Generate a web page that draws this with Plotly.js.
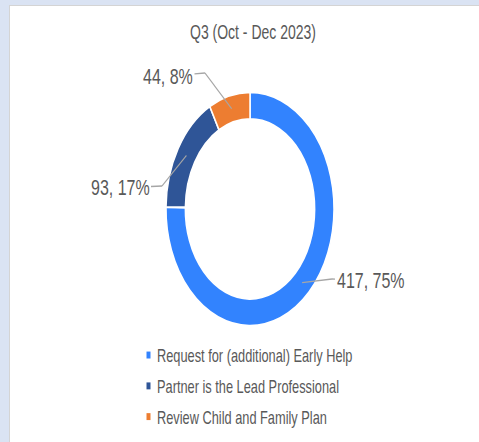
<!DOCTYPE html>
<html><head><meta charset="utf-8">
<script src="https://cdn.plot.ly/plotly-3.0.1.min.js"></script>
<style>
html,body{margin:0;padding:0;background:#DAE3F3;overflow:hidden;width:479px;height:442px;}
#card{position:absolute;left:9px;top:5px;width:470px;height:437px;background:#ffffff;border-left:1px solid #D4D4D4;border-top:1px solid #D4D4D4;}
#chart{position:absolute;left:0;top:0;width:469px;height:314px;transform-origin:0 0;}
</style></head><body>
<div id="card"><div id="chart"></div></div>
<script>
// ---- data ----
const chartTitle = 'Q3 (Oct - Dec 2023)';
const categories = ['Request for (additional) Early Help', 'Partner is the Lead Professional', 'Review Child and Family Plan'];
const values = [417, 93, 44];
const colors = ['#3283FE', '#2F5597', '#ED7D31'];

// ---- layout constants (pixels in the unstretched plot) ----
const W = 469, H = 314, STRETCH = 1.39;
const HOLE = 0.77;
const pieDomain = {x: [156 / W, 324 / W], y: [1 - 230 / H, 1 - 62 / H]};
// label text centre and elbow of leader line for each category
const labelText = [[360.5, 197.8], [110, 130.9], [158, 50.4]];
const labelElbow = [[322, 196.4], [152, 129.5], [195, 48.2]];
const legendRowY = [251.1, 273.3, 295.4];
const textColor = '#595959';
const lineColor = '#A6A6A6';
const fontFam = 'Liberation Sans, Arial, sans-serif';

const total = values.reduce((a, b) => a + b, 0);
const cx = (pieDomain.x[0] + pieDomain.x[1]) / 2 * W;
const cy = (1 - (pieDomain.y[0] + pieDomain.y[1]) / 2) * H;
const rOuter = Math.min((pieDomain.x[1] - pieDomain.x[0]) * W, (pieDomain.y[1] - pieDomain.y[0]) * H) / 2;
const rMid = rOuter * (1 + HOLE) / 2;

const annotations = [], shapes = [];
let cum = 0;
values.forEach((v, i) => {
  const mid = (cum + v / 2) / total; cum += v;
  const th = mid * 2 * Math.PI;
  const tipX = cx + rMid * Math.sin(th), tipY = cy - rMid * Math.cos(th);
  const [ex, ey] = labelElbow[i];
  const [tx, ty] = labelText[i];
  const txt = v + ', ' + Math.round(v / total * 100) + '%';
  annotations.push({
    xref: 'paper', yref: 'paper', x: ex / W, y: 1 - ey / H,
    axref: 'pixel', ayref: 'pixel', ax: tx - ex, ay: ty - ey,
    text: txt, showarrow: true, arrowhead: 0, arrowwidth: 1, arrowcolor: lineColor, standoff: 0,
    font: {family: fontFam, size: 16, color: textColor}, borderpad: 1
  });
  shapes.push({type: 'line', xref: 'paper', yref: 'paper', x0: ex / W, y0: 1 - ey / H, x1: tipX / W, y1: 1 - tipY / H,
    line: {color: lineColor, width: 1}, layer: 'above'});
});

const trace = {
  type: 'pie', labels: categories, values: values, sort: false, direction: 'clockwise', rotation: 0,
  hole: HOLE, marker: {colors: colors, line: {color: '#ffffff', width: 1.5}},
  textinfo: 'none', hoverinfo: 'label+value+percent', domain: pieDomain, showlegend: true
};

const layout = {
  width: W, height: H, margin: {l: 0, r: 0, t: 0, b: 0},
  paper_bgcolor: 'rgba(0,0,0,0)', plot_bgcolor: 'rgba(0,0,0,0)',
  font: {family: fontFam, color: textColor},
  title: {text: chartTitle, x: 243 / W, xanchor: 'center', xref: 'container', y: 1 - 18.7 / H, yanchor: 'middle', yref: 'container',
          font: {family: fontFam, size: 14, color: textColor}},
  showlegend: true,
  legend: {x: 107 / W, xanchor: 'left', y: 1 - 238 / H, yanchor: 'top', bgcolor: 'rgba(0,0,0,0)',
           font: {family: fontFam, size: 12.8, color: textColor}, traceorder: 'normal'},
  annotations: annotations, shapes: shapes
};

const gd = document.getElementById('chart');
function parseT(t) {
  const m = /translate\(\s*([-\d.e]+)[\s,]+([-\d.e]+)\s*\)/.exec(t || '');
  return m ? {x: parseFloat(m[1]), y: parseFloat(m[2])} : {x: 0, y: 0};
}
Plotly.newPlot(gd, [trace], layout, {displayModeBar: false, staticPlot: true}).then(() => {
  const leg = gd.querySelector('g.legend');
  if (leg) {
    const lt = parseT(leg.getAttribute('transform'));
    const sb = leg.querySelector('g.scrollbox');
    let st = {x: 0, y: 0};
    if (sb) { st = parseT(sb.getAttribute('transform')); sb.removeAttribute('clip-path'); }
    leg.querySelectorAll('g.traces').forEach((g, i) => {
      const t = parseT(g.getAttribute('transform'));
      g.setAttribute('transform', 'translate(' + t.x + ',' + (legendRowY[i] - lt.y - st.y) + ')');
      const p = g.querySelector('path.legendpie');
      if (p) {
        p.setAttribute('d', 'M2,2.5H-2V-2.5H2Z');
        p.setAttribute('transform', 'translate(31.5,0)');
        p.style.strokeWidth = '0px';
      }
    });
  }
  gd.style.transform = 'scaleY(' + STRETCH + ')';
});
</script></body></html>
